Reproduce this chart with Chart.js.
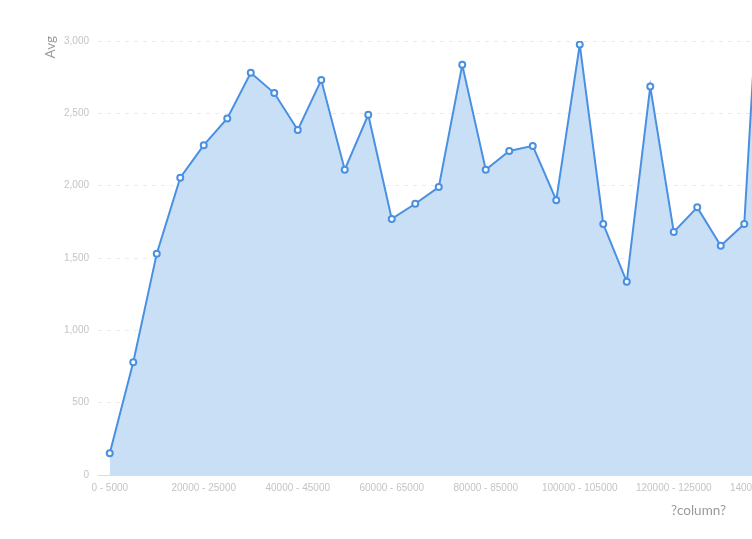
<!DOCTYPE html>
<html>
<head>
<meta charset="utf-8">
<script src="https://cdn.jsdelivr.net/npm/chart.js@4.4.0/dist/chart.umd.min.js"></script>
<style>
    html, body { margin: 0; padding: 0; background: #fff; overflow: hidden; }
    #wrap { position: relative; width: 830px; height: 539px; }
</style>
</head>
<body>
<div id="wrap"><canvas id="avgChart"></canvas></div>
<script>
// Data dari gambar (bin 5000)
const categories = [
    '0 - 5000', '5000 - 10000', '10000 - 15000', '15000 - 20000',
    '20000 - 25000', '25000 - 30000', '30000 - 35000', '35000 - 40000',
    '40000 - 45000', '45000 - 50000', '50000 - 55000', '55000 - 60000',
    '60000 - 65000', '65000 - 70000', '70000 - 75000', '75000 - 80000',
    '80000 - 85000', '85000 - 90000', '90000 - 95000', '95000 - 100000',
    '100000 - 105000', '105000 - 110000', '110000 - 115000', '115000 - 120000',
    '120000 - 125000', '125000 - 130000', '130000 - 135000', '135000 - 140000',
    '140000 - 145000'
];
const avgValues = [
    150, 780, 1530, 2055, 2280, 2465, 2780, 2640,
    2385, 2730, 2110, 2490, 1770, 1875, 1990, 2835,
    2110, 2240, 2275, 1900, 2975, 1735, 1335, 2685,
    1680, 1850, 1585, 1735, 4500
];
const yTicks = [0, 500, 1000, 1500, 2000, 2500, 3000];

const axisTextColor = '#c4c4c4';
const titleColor = '#9a9a9a';
const lineColor = '#4A90E2';
const tickFont = { family: '"Liberation Sans", Arial, sans-serif', size: 10 };

// Judul sumbu digambar manual
const axisTitles = {
    id: 'axisTitles',
    afterDraw(chart) {
        const ctx = chart.ctx;
        ctx.save();
        ctx.fillStyle = titleColor;
        ctx.font = '13.5px Lato';
        ctx.textBaseline = 'middle';
        ctx.textAlign = 'right';
        ctx.fillText('?column?', 726, 511);
        ctx.translate(51, 36);
        ctx.rotate(-Math.PI / 2);
        ctx.textAlign = 'right';
        ctx.fillText('Avg', 0, 0);
        ctx.restore();
    }
};

new Chart(document.getElementById('avgChart'), {
    type: 'line',
    data: {
        labels: categories,
        datasets: [{
            label: 'Avg',
            data: avgValues,
            borderColor: lineColor,
            borderWidth: 2,
            backgroundColor: '#C9DFF5',
            fill: 'origin',
            tension: 0,
            pointRadius: 3,
            pointBorderWidth: 2,
            pointBackgroundColor: '#fff',
            pointBorderColor: lineColor
        }]
    },
    options: {
        responsive: true,
        maintainAspectRatio: false,
        animation: false,
        layout: { padding: { top: 41, right: 50.5, left: 0, bottom: 0 } },
        plugins: {
            legend: { display: false },
            tooltip: { enabled: false }
        },
        scales: {
            x: {
                offset: true,
                grid: { display: false, drawTicks: false },
                border: { display: true, color: '#dcdcdc' },
                ticks: {
                    autoSkip: false,
                    maxRotation: 0,
                    minRotation: 0,
                    padding: 7,
                    color: axisTextColor,
                    font: tickFont,
                    callback: (v, i) => (i % 4 === 0 ? categories[i] : '')
                },
                afterFit: (scale) => { scale.height = 64; }
            },
            y: {
                min: 0,
                max: 3000,
                afterBuildTicks: (scale) => { scale.ticks = yTicks.map(v => ({ value: v })); },
                grid: {
                    color: '#ebebeb',
                    drawTicks: false
                },
                border: { display: false, dash: [4, 5] },
                ticks: {
                    padding: 9,
                    color: axisTextColor,
                    font: tickFont,
                    callback: (v) => v.toLocaleString('en-US')
                },
                afterFit: (scale) => { scale.width = 98; }
            }
        }
    },
    plugins: [axisTitles]
});
</script>
</body>
</html>
